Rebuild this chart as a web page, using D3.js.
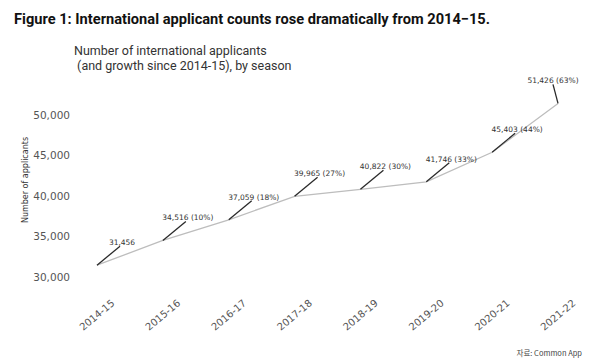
<!DOCTYPE html>
<html><head><meta charset="utf-8">
<script src="https://cdn.jsdelivr.net/npm/d3@7"></script>
<style>html,body{margin:0;padding:0;background:#fff;}svg{display:block;}</style>
</head><body>
<script>
const seasons = ["2014-15","2015-16","2016-17","2017-18","2018-19","2019-20","2020-21","2021-22"];
const applicants = [31456,34516,37059,39965,40822,41746,45403,51426];
const yTicks = [30000,35000,40000,45000,50000];
const titleText = "Figure 1: International applicant counts rose dramatically from 2014\u221215.";
const subtitleLines = ["Number of international applicants"," (and growth since 2014-15), by season"];
const yTitle = "Number of applicants";
const sourceText = "\uC790\uB8CC: Common App";

const W = 600, H = 364;
const svg = d3.select("body").append("svg").attr("width", W).attr("height", H);

const x = d3.scalePoint().domain(seasons).range([97, 558]);
const y = d3.scaleLinear().domain([30000, 50000]).range([277, 115]);

// title
svg.append("text").attr("x", 14).attr("y", 24)
  .attr("font-family", "Roboto, sans-serif").attr("font-weight", "bold")
  .attr("font-size", 15).attr("fill", "#111")
  .attr("textLength", 476).attr("lengthAdjust", "spacingAndGlyphs")
  .text(titleText);

// subtitle
svg.append("g").selectAll("text").data(subtitleLines).join("text")
  .attr("x", 74).attr("y", (d, i) => 55 + i * 15)
  .attr("font-family", "Roboto, sans-serif").attr("font-size", 12.5)
  .attr("fill", "#333").attr("xml:space", "preserve").style("white-space", "pre")
  .text(d => d);

// y axis
const yAxis = d3.axisLeft(y).tickValues(yTicks).tickFormat(d3.format(",")).tickSize(0).tickPadding(0);
const gy = svg.append("g").attr("transform", "translate(70,0)").call(yAxis);
gy.select(".domain").remove();
gy.selectAll("text").attr("font-family", "DejaVu Sans, sans-serif").attr("font-size", 10.5).attr("fill", "#555");

svg.append("text").attr("transform", "translate(28,180) rotate(-90)")
  .attr("text-anchor", "middle").attr("font-family", "DejaVu Sans, sans-serif")
  .attr("font-size", 8).attr("fill", "#333").text(yTitle);

// x axis
const xAxis = d3.axisBottom(x).tickSize(0).tickPadding(0);
const gx = svg.append("g").attr("transform", "translate(0,0)").call(xAxis);
gx.select(".domain").remove();
gx.selectAll(".tick").attr("transform", d => `translate(${x(d)},315)`);
gx.selectAll("text").attr("y", 0).attr("dy", "0.35em")
  .attr("text-anchor", "middle").attr("transform", "rotate(-40)")
  .attr("font-family", "DejaVu Sans, sans-serif").attr("font-size", 10).attr("fill", "#555");

// line
const line = d3.line().x((d, i) => x(seasons[i])).y(d => y(d));
svg.append("path").datum(applicants).attr("d", line)
  .attr("fill", "none").attr("stroke", "#bdbdbd").attr("stroke-width", 1.3);

// leaders + labels
const n = applicants.length;
const pts = applicants.map((v, i) => ({season: seasons[i], v, i}));
const g = svg.append("g");
g.selectAll("line").data(pts).join("line")
  .attr("x1", d => x(d.season)).attr("y1", d => y(d.v))
  .attr("x2", d => x(d.season) + (d.i === n - 1 ? -5 : 23))
  .attr("y2", d => y(d.v) - 19)
  .attr("stroke", "#2a2a2a").attr("stroke-width", 1.3);
const fmt = d3.format(",");
g.selectAll("text").data(pts).join("text")
  .attr("x", d => x(d.season) + (d.i === n - 1 ? -5 : 25))
  .attr("y", d => y(d.v) - 20)
  .attr("text-anchor", "middle")
  .attr("font-family", "DejaVu Sans, sans-serif").attr("font-size", 7.5).attr("fill", "#333")
  .text(d => d.i === 0 ? fmt(d.v) : `${fmt(d.v)} (${Math.round((d.v / applicants[0] - 1) * 100)}%)`);

// source
svg.append("text").attr("x", 582).attr("y", 356).attr("text-anchor", "end")
  .attr("font-family", "Noto Sans CJK KR, sans-serif").attr("font-size", 7.5).attr("fill", "#444")
  .text(sourceText);
</script>
</body></html>
